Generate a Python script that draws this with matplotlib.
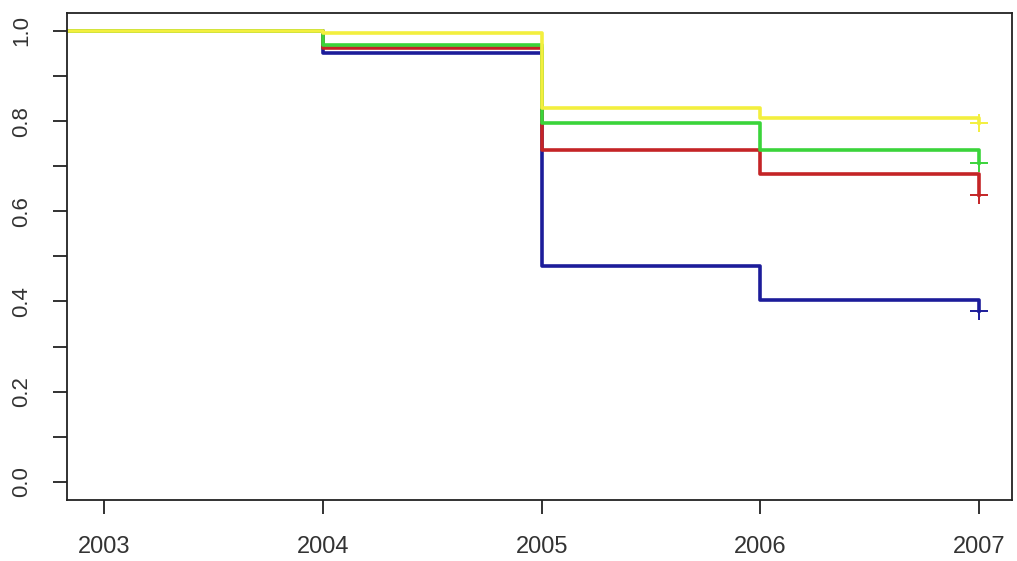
import matplotlib.pyplot as plt
import numpy as np

plt.rcParams['font.family'] = ['Liberation Sans', 'DejaVu Sans']

# step times (years) and survival estimates for each group
times = [2003, 2004, 2005, 2006, 2007]
blue_surv = [1.0, 0.951, 0.479, 0.403, 0.379]
red_surv = [1.0, 0.962, 0.736, 0.682, 0.636]
green_surv = [1.0, 0.968, 0.795, 0.735, 0.708]
yellow_surv = [1.0, 0.995, 0.829, 0.806, 0.795]

series = [
    (blue_surv, '#1c1c9a'),
    (red_surv, '#c42426'),
    (green_surv, '#3ad43a'),
    (yellow_surv, '#f3ef3e'),
]

fig, ax = plt.subplots(figsize=(10.17, 5.61), dpi=100)
fig.subplots_adjust(left=0.066, right=0.995, top=0.977, bottom=0.109)

for surv, col in series:
    x = [2002.8] + times
    y = [surv[0]] + surv
    ax.step(x, y, where='post', color=col, linewidth=2.6)
    # censoring mark at the end
    ax.plot(times[-1], surv[-1], marker='+', color=col, markersize=13, mew=1.4)

ax.set_xlim(2002.83, 2007.15)
ax.set_ylim(-0.04, 1.04)

ax.set_xticks(times)
ax.set_xticklabels([str(t) for t in times])
yt = np.round(np.arange(0, 1.01, 0.1), 1)
ax.set_yticks(yt)
ax.set_yticklabels([f'{v:.1f}' if i % 2 == 0 else '' for i, v in enumerate(yt)],
                   rotation=90, va='center')

ax.tick_params(direction='out', length=10, width=1.3,
               labelcolor='#333333', color='#222222')
ax.tick_params(axis='x', pad=16, labelsize=17)
ax.tick_params(axis='y', pad=15, labelsize=16)
for s in ax.spines.values():
    s.set_linewidth(1.3)
    s.set_color('#222222')

fig.savefig('out.png', dpi=100)
